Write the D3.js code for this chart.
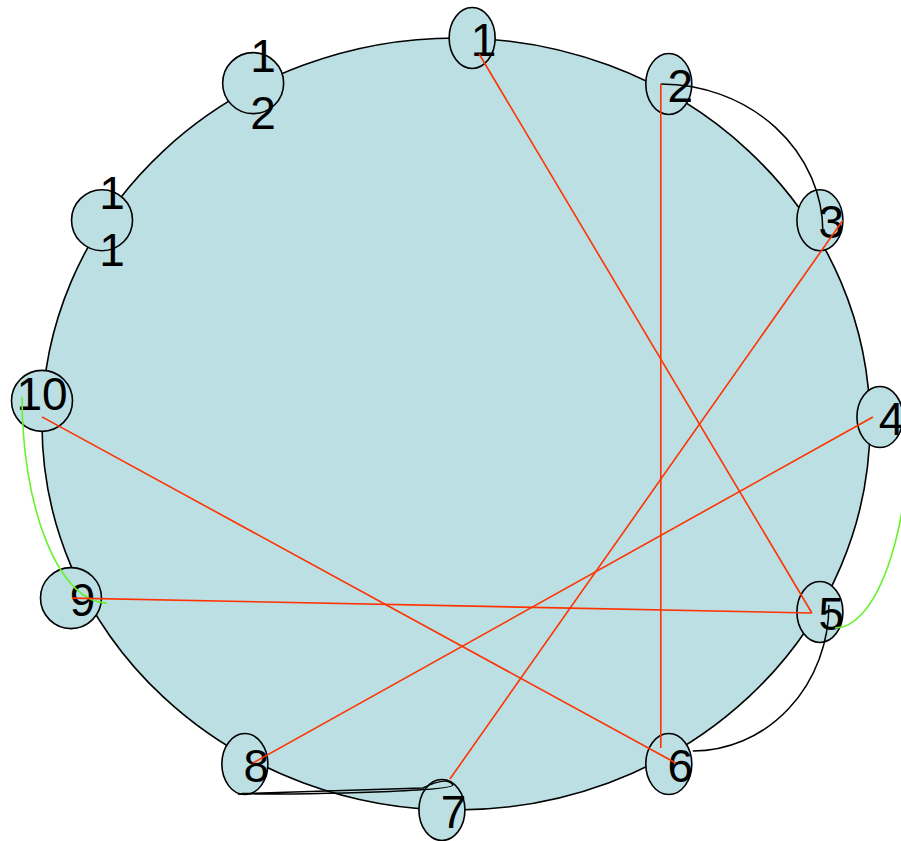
<!DOCTYPE html>
<html>
<head>
<meta charset="utf-8">
<script src="https://cdn.jsdelivr.net/npm/d3@7"></script>
<style>
  html, body { margin: 0; padding: 0; background: #ffffff; }
  svg { display: block; }
</style>
</head>
<body>
<div id="chart"></div>
<script>
// ---- data (normalized ring-layout coordinates) ----
const nodeIds = ["1","2","3","4","5","6","7","8","9","10","11","12"];
const nodeX = [0.039, 0.514, 0.879, 1.024, 0.879, 0.514, -0.034, -0.510, -0.930, -1.000, -0.855, -0.490];
const nodeY = [-1.000, -0.881, -0.528, -0.018, 0.487, 0.881, 1.000, 0.881, 0.451, -0.060, -0.528, -0.883];
const nodeLabelLines = [["1"],["2"],["3"],["4"],["5"],["6"],["7"],["8"],["9"],["10"],["1","1"],["1","2"]];

const redEdges   = [["1","5"],["2","6"],["3","7"],["4","8"],["9","5"],["10","6"]];
const blackArcs  = [["2","3"],["5","6"],["8","7"]];
const greenArcs  = [["10","9"],["4","5"]];

// ---- drawing ----
const W = 901, H = 841;
const svg = d3.select("#chart").append("svg").attr("width", W).attr("height", H);

const x = d3.scaleLinear().domain([-1, 1]).range([42, 870]);
const y = d3.scaleLinear().domain([-1, 1]).range([38, 810]);

const FILL = "#bbdfe3";
const RED = "#ff3300";
const GREEN = "#66f22e";

// big ring ellipse
svg.append("ellipse")
  .attr("cx", x(0)).attr("cy", y(0))
  .attr("rx", x(1) - x(0)).attr("ry", y(1) - y(0))
  .attr("fill", FILL).attr("stroke", "#000").attr("stroke-width", 1.6);

const nodes = nodeIds.map((id, i) => ({
  id, i, cx: x(nodeX[i]), cy: y(nodeY[i]), lines: nodeLabelLines[i]
}));
const byId = Object.fromEntries(nodes.map(n => [n.id, n]));

const g = svg.selectAll("g.node").data(nodes).join("g").attr("class", "node");
g.append("ellipse")
  .attr("cx", d => d.cx).attr("cy", d => d.cy)
  .attr("rx", d => d.i < 8 ? 23 : 30.5).attr("ry", 30.5)
  .attr("fill", FILL).attr("stroke", "#000").attr("stroke-width", 1.6);

g.each(function(d) {
  const sel = d3.select(this);
  let tx, bases;
  if (d.lines.length === 2) { tx = d.cx + 10; bases = [d.cy - 11, d.cy + 46]; }
  else if (d.lines[0].length === 1) { tx = d.cx + 11.5; bases = [d.cy + 18]; }
  else { tx = d.cx; bases = [d.cy + 9]; }
  d.lines.forEach((t, k) => {
    sel.append("text")
      .attr("x", tx).attr("y", bases[k])
      .attr("text-anchor", "middle")
      .attr("font-family", "'Liberation Sans', Arial, sans-serif")
      .attr("font-size", 46)
      .attr("fill", "#000")
      .text(t);
  });
});

// edge ports (offsets from node centres where edges attach)
const ports = {
  "1-5": [[7,16],[-8,1]],
  "2-6": [[-8,0],[-8,-16]],
  "3-7": [[23,0],[8,-31]],
  "4-8": [[-7,0],[8,-1]],
  "9-5": [[1,0],[-8,1]],
  "10-6": [[0,16],[7,-1]],
  "2-3": [[-8,0],[3,12], 1],
  "5-6": [[9,-7],[24,-13], 1],
  "8-7": [[-7,30],[11,-25], 0],
  "10-9": [[-20,-4],[36,5], 0],
  "4-5": [[30,0],[15,16], 1]
};
function endpoints(e) {
  const p = ports[e[0] + "-" + e[1]];
  const a = byId[e[0]], b = byId[e[1]];
  return { s: [a.cx + p[0][0], a.cy + p[0][1]], t: [b.cx + p[1][0], b.cy + p[1][1]], sweep: p[2] };
}
function arcPath(e) {
  const { s, t, sweep } = endpoints(e);
  const rx = Math.abs(t[0] - s[0]), ry = Math.abs(t[1] - s[1]);
  let d = `M${s[0]},${s[1]} A${rx},${ry} 0 0 ${sweep} ${t[0]},${t[1]}`;
  if (e[0] === "8" && e[1] === "7") {
    d += ` Q${t[0] - 6},${t[1] - 9} ${t[0] - 30},${t[1] + 3} L${s[0] + 4},${s[1] - 0.5}`;
  }
  return d;
}

svg.selectAll("path.black").data(blackArcs).join("path").attr("class", "black")
  .attr("d", arcPath).attr("fill", "none").attr("stroke", "#000").attr("stroke-width", 1.5);

svg.selectAll("path.green").data(greenArcs).join("path").attr("class", "green")
  .attr("d", arcPath).attr("fill", "none").attr("stroke", GREEN).attr("stroke-width", 1.6);

svg.selectAll("line.red").data(redEdges).join("line").attr("class", "red")
  .each(function(e) {
    const { s, t } = endpoints(e);
    d3.select(this).attr("x1", s[0]).attr("y1", s[1]).attr("x2", t[0]).attr("y2", t[1]);
  })
  .attr("stroke", RED).attr("stroke-width", 1.6);
</script>
</body>
</html>
